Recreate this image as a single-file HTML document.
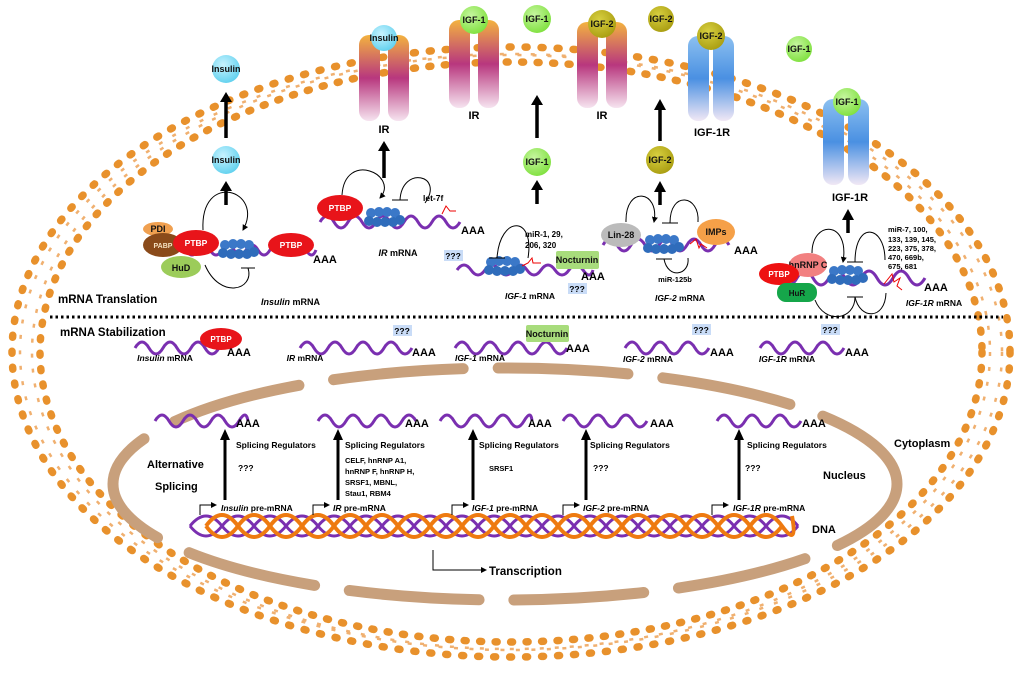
<!DOCTYPE html>
<html><head><meta charset="utf-8"><style>
html,body{margin:0;padding:0;background:#fff;}
svg{display:block;font-family:"Liberation Sans",Arial,sans-serif;font-weight:bold;}
.t{font-size:9px;fill:#111}
</style></head><body>
<svg width="1024" height="674" viewBox="0 0 1024 674" xmlns="http://www.w3.org/2000/svg">
<defs>
<linearGradient id="ir" x1="0" y1="0" x2="0" y2="1">
<stop offset="0" stop-color="#f3b23f"/><stop offset="0.5" stop-color="#b8377e"/><stop offset="1" stop-color="#f6e4f0"/></linearGradient>
<linearGradient id="igr" x1="0" y1="0" x2="0" y2="1">
<stop offset="0" stop-color="#8cc0f0"/><stop offset="0.5" stop-color="#4a90e2"/><stop offset="1" stop-color="#f1e8f5"/></linearGradient>
<radialGradient id="ins" cx="0.4" cy="0.35" r="0.7"><stop offset="0" stop-color="#c8f3ff"/><stop offset="1" stop-color="#5ed0ee"/></radialGradient>
<radialGradient id="ig1" cx="0.4" cy="0.35" r="0.7"><stop offset="0" stop-color="#c6f6a0"/><stop offset="1" stop-color="#7ee03c"/></radialGradient>
<radialGradient id="ig2" cx="0.4" cy="0.35" r="0.7"><stop offset="0" stop-color="#d8d040"/><stop offset="1" stop-color="#a89c10"/></radialGradient>
<g id="rib">
<circle cx="-12" cy="-5" r="5" fill="#3b78c8"/><circle cx="-4" cy="-6" r="5" fill="#3b78c8"/><circle cx="4" cy="-6" r="5" fill="#3b78c8"/><circle cx="12" cy="-5" r="5" fill="#3b78c8"/>
<circle cx="-14" cy="3" r="5" fill="#2f6cbb"/><circle cx="-6" cy="4" r="5" fill="#2f6cbb"/><circle cx="2" cy="4" r="5" fill="#2f6cbb"/><circle cx="10" cy="4" r="5" fill="#2f6cbb"/><circle cx="17" cy="2" r="5" fill="#2f6cbb"/>
</g>
<marker id="ah" markerWidth="6" markerHeight="6" refX="5" refY="3" orient="auto"><path d="M0,0 L6,3 L0,6 z" fill="#000"/></marker>
</defs>

<!-- membrane -->
<ellipse cx="511" cy="352" rx="491" ry="298" fill="none" stroke="#f0b070" stroke-width="2.5" stroke-dasharray="4 11.5"/>
<ellipse cx="511" cy="352" rx="479" ry="297" fill="none" stroke="#f0b070" stroke-width="2.5" stroke-dasharray="4 11"/>
<ellipse cx="511" cy="352" rx="499" ry="305" fill="none" stroke="#e8912c" stroke-width="7.5" stroke-dasharray="2 14" stroke-linecap="round"/>
<ellipse cx="511" cy="352" rx="471" ry="290" fill="none" stroke="#e8912c" stroke-width="7.5" stroke-dasharray="2 13.5" stroke-linecap="round"/>

<!-- nucleus -->
<ellipse cx="505" cy="484" rx="392" ry="116" fill="none" stroke="#c8a07c" stroke-width="11" stroke-dasharray="130 35" stroke-linecap="round" stroke-dashoffset="40"/>

<!-- dotted divider -->
<line x1="50" y1="317" x2="1003" y2="317" stroke="#000" stroke-width="3" stroke-dasharray="2.5 3"/>
<text x="58" y="303" font-size="11.5">mRNA Translation</text>
<text x="60" y="336" font-size="11.5">mRNA Stabilization</text>

<!-- receptors -->
<g>
<rect x="359" y="35" width="21" height="86" rx="10" fill="url(#ir)"/><rect x="388" y="35" width="21" height="86" rx="10" fill="url(#ir)"/>
<circle cx="384" cy="38" r="13" fill="url(#ins)"/><text x="384" y="41" class="t" font-size="7" text-anchor="middle">Insulin</text>
<text x="384" y="133" font-size="11" text-anchor="middle">IR</text>
<rect x="449" y="20" width="21" height="88" rx="10" fill="url(#ir)"/><rect x="478" y="20" width="21" height="88" rx="10" fill="url(#ir)"/>
<circle cx="474" cy="20" r="14" fill="url(#ig1)"/><text x="474" y="23" class="t" font-size="7" text-anchor="middle">IGF-1</text>
<text x="474" y="119" font-size="11" text-anchor="middle">IR</text>
<rect x="577" y="22" width="21" height="86" rx="10" fill="url(#ir)"/><rect x="606" y="22" width="21" height="86" rx="10" fill="url(#ir)"/>
<circle cx="602" cy="24" r="14" fill="url(#ig2)"/><text x="602" y="27" class="t" font-size="7" text-anchor="middle">IGF-2</text>
<text x="602" y="119" font-size="11" text-anchor="middle">IR</text>
<rect x="688" y="36" width="21" height="85" rx="10" fill="url(#igr)"/><rect x="713" y="36" width="21" height="85" rx="10" fill="url(#igr)"/>
<circle cx="711" cy="36" r="14" fill="url(#ig2)"/><text x="711" y="39" class="t" font-size="7" text-anchor="middle">IGF-2</text>
<text x="712" y="136" font-size="11" text-anchor="middle">IGF-1R</text>
<rect x="823" y="99" width="21" height="86" rx="10" fill="url(#igr)"/><rect x="848" y="99" width="21" height="86" rx="10" fill="url(#igr)"/>
<circle cx="847" cy="102" r="14" fill="url(#ig1)"/><text x="847" y="105" class="t" font-size="7" text-anchor="middle">IGF-1</text>
<text x="850" y="201" font-size="11" text-anchor="middle">IGF-1R</text>
</g>
<!-- free ligands -->
<circle cx="537" cy="19" r="14" fill="url(#ig1)"/><text x="537" y="22" class="t" font-size="7" text-anchor="middle">IGF-1</text>
<circle cx="661" cy="19" r="13" fill="url(#ig2)"/><text x="661" y="22" class="t" font-size="7" text-anchor="middle">IGF-2</text>
<circle cx="799" cy="49" r="13" fill="url(#ig1)"/><text x="799" y="52" class="t" font-size="7" text-anchor="middle">IGF-1</text>
<circle cx="226" cy="69" r="14" fill="url(#ins)"/><text x="226" y="72" class="t" font-size="7" text-anchor="middle">Insulin</text>
<circle cx="226" cy="160" r="14" fill="url(#ins)"/><text x="226" y="163" class="t" font-size="7" text-anchor="middle">Insulin</text>
<circle cx="537" cy="162" r="14" fill="url(#ig1)"/><text x="537" y="165" class="t" font-size="7" text-anchor="middle">IGF-1</text>
<circle cx="660" cy="160" r="14" fill="url(#ig2)"/><text x="660" y="163" class="t" font-size="7" text-anchor="middle">IGF-2</text>

<!-- thick up arrows -->
<g stroke="#000" stroke-width="3.5" fill="#000">
<line x1="226" y1="138" x2="226" y2="100"/><path d="M220,102 L226,92 L232,102z" stroke="none"/>
<line x1="226" y1="205" x2="226" y2="190"/><path d="M220,191 L226,181 L232,191z" stroke="none"/>
<line x1="384" y1="178" x2="384" y2="150"/><path d="M378,151 L384,141 L390,151z" stroke="none"/>
<line x1="537" y1="138" x2="537" y2="105"/><path d="M531,105 L537,95 L543,105z" stroke="none"/>
<line x1="537" y1="204" x2="537" y2="189"/><path d="M531,190 L537,180 L543,190z" stroke="none"/>
<line x1="660" y1="141" x2="660" y2="109"/><path d="M654,110 L660,99 L666,110z" stroke="none"/>
<line x1="660" y1="205" x2="660" y2="191"/><path d="M654,192 L660,181 L666,192z" stroke="none"/>
<line x1="848" y1="233" x2="848" y2="219"/><path d="M842,220 L848,209 L854,220z" stroke="none"/>
</g>

<!-- mRNA translation row -->
<g fill="none" stroke="#7a2fb0" stroke-width="3">
<path d="M150 250 q6 -10 12 0 t12 0 t12 0 t12 0 t12 0 t12 0 t12 0 t12 0 t12 0 t12 0 t12 0 t12 0 t12 0 t10 0"/>
<path d="M320 222 q7 -12 14 0 t14 0 t14 0 t14 0 t14 0 t14 0 t14 0 t14 0 t14 0 t14 0"/>
<path d="M457 270 q7 -10 14 0 t14 0 t14 0 t14 0 t14 0 t14 0 t14 0 t14 0 t14 0 t10 0"/>
<path d="M603 245 q7 -12 14 0 t14 0 t14 0 t14 0 t14 0 t14 0 t14 0 t14 0 t14 0"/>
<path d="M765 278 q8 -14 16 0 t16 0 t16 0 t16 0 t16 0 t16 0 t16 0 t16 0 t16 0 t16 0"/>
</g>
<!-- proteins -->
<ellipse cx="158" cy="229" rx="15" ry="7" fill="#f0a050"/><text x="158" y="232" class="t" font-size="6.5" text-anchor="middle">PDI</text>
<ellipse cx="163" cy="245" rx="20" ry="12" fill="#8a4a1a"/><text x="163" y="248" font-size="7" fill="#f5e0c0" text-anchor="middle">PABP</text>
<ellipse cx="181" cy="267" rx="20" ry="11" fill="#9ccc5a"/><text x="181" y="271" class="t" font-size="9" text-anchor="middle">HuD</text>
<ellipse cx="196" cy="243" rx="23" ry="13" fill="#e8141a"/><text x="196" y="246" font-size="8.5" fill="#fff" text-anchor="middle">PTBP</text>
<use href="#rib" x="237" y="250"/>
<ellipse cx="291" cy="245" rx="23" ry="12" fill="#e8141a"/><text x="291" y="248" font-size="8.5" fill="#fff" text-anchor="middle">PTBP</text>
<text x="313" y="263" font-size="11">AAA</text>
<text x="261" y="305" font-size="9"><tspan font-style="italic">Insulin</tspan> mRNA</text>

<ellipse cx="340" cy="208" rx="23" ry="13" fill="#e8141a"/><text x="340" y="211" font-size="8.5" fill="#fff" text-anchor="middle">PTBP</text>
<use href="#rib" x="383" y="218"/>
<path d="M442 214 l4 -8 l4 5 l6 0" stroke="#e00" fill="none" stroke-width="1"/>
<text x="461" y="234" font-size="11">AAA</text>
<text x="398" y="256" font-size="9" text-anchor="middle"><tspan font-style="italic">IR</tspan> mRNA</text>
<text x="423" y="201" font-size="8.5">let-7f</text>

<rect x="444" y="250" width="19" height="11" fill="#c9dcf7"/><text x="453" y="259" font-size="8.5" text-anchor="middle">???</text>
<use href="#rib" x="503" y="267"/>
<path d="M522 266 l6 -3 l4 -5 l1 5 l8 0" stroke="#e00" fill="none" stroke-width="1"/>
<rect x="556" y="251" width="43" height="18" rx="2" fill="#a8dc7c"/><text x="577" y="263" class="t" font-size="7.5" text-anchor="middle">Nocturnin</text>
<text x="581" y="280" font-size="11">AAA</text>
<rect x="568" y="283" width="19" height="11" fill="#c9dcf7"/><text x="577" y="292" font-size="8.5" text-anchor="middle">???</text>
<text x="525" y="237" font-size="8">miR-1, 29,</text><text x="525" y="248" font-size="8">206, 320</text>
<text x="530" y="299" font-size="8.5" text-anchor="middle"><tspan font-style="italic">IGF-1</tspan> mRNA</text>

<ellipse cx="621" cy="235" rx="20" ry="12" fill="#bbb"/><text x="621" y="238" class="t" font-size="7" text-anchor="middle">Lin-28</text>
<use href="#rib" x="662" y="245"/>
<path d="M690 244 l6 -5 l3 9 l2 -4 l6 4" stroke="#e00" fill="none" stroke-width="1"/>
<ellipse cx="716" cy="232" rx="19" ry="13" fill="#f5a048"/><text x="716" y="235" class="t" font-size="8.5" text-anchor="middle">IMPs</text>
<text x="734" y="254" font-size="11">AAA</text>
<text x="675" y="282" font-size="7.5" text-anchor="middle">miR-125b</text>
<text x="680" y="301" font-size="8.5" text-anchor="middle"><tspan font-style="italic">IGF-2</tspan> mRNA</text>

<ellipse cx="808" cy="265" rx="19" ry="12" fill="#f28080"/><text x="808" y="268" class="t" font-size="8" text-anchor="middle">hnRNP C</text>
<ellipse cx="779" cy="274" rx="20" ry="11" fill="#ee1111"/><text x="779" y="277" font-size="8" fill="#fff" text-anchor="middle">PTBP</text>
<rect x="777" y="283" width="40" height="19" rx="9" fill="#15a64a"/><text x="797" y="296" font-size="8" fill="#111" text-anchor="middle">HuR</text>
<use href="#rib" x="846" y="276"/>
<path d="M884 284 l8 -10 l2 8 l6 -4 l-3 8 l5 4" stroke="#e00" fill="none" stroke-width="1"/>
<text x="924" y="291" font-size="11">AAA</text>
<g font-size="7.5"><text x="888" y="232">miR-7, 100,</text><text x="888" y="242">133, 139, 145,</text><text x="888" y="251">223, 375, 378,</text><text x="888" y="260">470, 669b,</text><text x="888" y="269">675, 681</text></g>
<text x="934" y="306" font-size="8.5" text-anchor="middle"><tspan font-style="italic">IGF-1R</tspan> mRNA</text>

<!-- curved arrows / inhibitors -->
<g fill="none" stroke="#000" stroke-width="1">
<path d="M203 230 C200 170 265 190 243 230" marker-end="url(#ah)"/>
<path d="M205 265 C220 300 255 290 248 268"/><line x1="241" y1="268" x2="255" y2="268"/>
<path d="M342 195 C345 150 400 175 380 198" marker-end="url(#ah)"/>
<path d="M400 200 C402 165 445 175 425 203"/><line x1="392" y1="200" x2="408" y2="200"/>
<path d="M497 258 C500 215 535 215 528 258"/><line x1="489" y1="258" x2="505" y2="258"/>
<path d="M626 222 C625 185 660 190 654 222" marker-end="url(#ah)"/>
<path d="M670 223 C670 190 700 195 698 222"/><line x1="662" y1="223" x2="678" y2="223"/>
<path d="M664 259 C668 280 690 275 688 258"/><line x1="656" y1="259" x2="672" y2="259"/>
<path d="M812 253 C812 220 850 220 843 262" marker-end="url(#ah)"/>
<path d="M855 262 C855 220 885 225 885 260"/><line x1="847" y1="262" x2="863" y2="262"/>
<path d="M815 300 C825 325 855 320 855 297"/>
<path d="M855 297 C860 320 885 320 886 293"/><line x1="847" y1="297" x2="863" y2="297"/>
</g>

<!-- stabilization row -->
<g fill="none" stroke="#7a2fb0" stroke-width="3">
<path d="M135 348 q7 -12 14 0 t14 0 t14 0 t14 0 t14 0 t14 0 t14 0"/>
<path d="M300 348 q7 -12 14 0 t14 0 t14 0 t14 0 t14 0 t14 0 t14 0 t14 0"/>
<path d="M455 348 q7 -12 14 0 t14 0 t14 0 t14 0 t14 0 t14 0 t14 0 t14 0"/>
<path d="M625 348 q7 -12 14 0 t14 0 t14 0 t14 0 t14 0 t14 0"/>
<path d="M760 348 q7 -12 14 0 t14 0 t14 0 t14 0 t14 0 t14 0"/>
</g>
<ellipse cx="221" cy="339" rx="21" ry="11" fill="#e8141a"/><text x="221" y="342" font-size="8" fill="#fff" text-anchor="middle">PTBP</text>
<text x="227" y="356" font-size="11">AAA</text>
<text x="165" y="361" font-size="8.5" text-anchor="middle"><tspan font-style="italic">Insulin</tspan> mRNA</text>
<rect x="393" y="325" width="19" height="11" fill="#c9dcf7"/><text x="402" y="334" font-size="8.5" text-anchor="middle">???</text>
<text x="412" y="356" font-size="11">AAA</text>
<text x="305" y="361" font-size="8.5" text-anchor="middle"><tspan font-style="italic">IR</tspan> mRNA</text>
<rect x="526" y="325" width="43" height="17" rx="2" fill="#a8dc7c"/><text x="547" y="337" class="t" font-size="7.5" text-anchor="middle">Nocturnin</text>
<text x="566" y="352" font-size="11">AAA</text>
<text x="480" y="361" font-size="8.5" text-anchor="middle"><tspan font-style="italic">IGF-1</tspan> mRNA</text>
<rect x="692" y="324" width="19" height="11" fill="#c9dcf7"/><text x="701" y="333" font-size="8.5" text-anchor="middle">???</text>
<text x="710" y="356" font-size="11">AAA</text>
<text x="648" y="362" font-size="8.5" text-anchor="middle"><tspan font-style="italic">IGF-2</tspan> mRNA</text>
<rect x="821" y="324" width="19" height="11" fill="#c9dcf7"/><text x="830" y="333" font-size="8.5" text-anchor="middle">???</text>
<text x="845" y="356" font-size="11">AAA</text>
<text x="787" y="362" font-size="8.5" text-anchor="middle"><tspan font-style="italic">IGF-1R</tspan> mRNA</text>

<!-- splicing row -->
<g fill="none" stroke="#7a2fb0" stroke-width="3">
<path d="M155 421 q7 -12 14 0 t14 0 t14 0 t14 0 t14 0 t14 0 t9 0"/>
<path d="M318 421 q7 -12 14 0 t14 0 t14 0 t14 0 t14 0 t14 0 t14 0"/>
<path d="M440 421 q7 -12 14 0 t14 0 t14 0 t14 0 t14 0 t14 0 t8 0"/>
<path d="M563 421 q7 -12 14 0 t14 0 t14 0 t14 0 t14 0 t14 0"/>
<path d="M717 421 q7 -12 14 0 t14 0 t14 0 t14 0 t14 0 t14 0"/>
</g>
<g font-size="11"><text x="236" y="427">AAA</text><text x="405" y="427">AAA</text><text x="528" y="427">AAA</text><text x="650" y="427">AAA</text><text x="802" y="427">AAA</text></g>
<g stroke="#000" stroke-width="3">
<line x1="225" y1="500" x2="225" y2="438"/><line x1="338" y1="500" x2="338" y2="438"/><line x1="473" y1="500" x2="473" y2="438"/><line x1="586" y1="500" x2="586" y2="438"/><line x1="739" y1="500" x2="739" y2="438"/>
</g>
<g fill="#000"><path d="M220,440 L225,429 L230,440z"/><path d="M333,440 L338,429 L343,440z"/><path d="M468,440 L473,429 L478,440z"/><path d="M581,440 L586,429 L591,440z"/><path d="M734,440 L739,429 L744,440z"/></g>
<g font-size="8.5">
<text x="236" y="448">Splicing Regulators</text><text x="238" y="471">???</text>
<text x="345" y="448">Splicing Regulators</text>
<text x="345" y="463" font-size="7.5">CELF, hnRNP A1,</text><text x="345" y="474" font-size="7.5">hnRNP F, hnRNP H,</text><text x="345" y="485" font-size="7.5">SRSF1, MBNL,</text><text x="345" y="496" font-size="7.5">Stau1, RBM4</text>
<text x="479" y="448">Splicing Regulators</text><text x="489" y="471" font-size="7.5">SRSF1</text>
<text x="590" y="448">Splicing Regulators</text><text x="593" y="471">???</text>
<text x="747" y="448">Splicing Regulators</text><text x="745" y="471">???</text>
</g>
<text x="147" y="468" font-size="11">Alternative</text>
<text x="155" y="490" font-size="11">Splicing</text>
<text x="894" y="447" font-size="11">Cytoplasm</text>
<text x="823" y="479" font-size="11">Nucleus</text>

<!-- DNA -->
<g fill="none" stroke="#7a2fb0" stroke-width="3">
<path d="M190 526 q16 -20 32 0 t32 0 t32 0 t32 0 t32 0 t32 0 t32 0 t32 0 t32 0 t32 0 t32 0 t32 0 t32 0 t32 0 t32 0 t32 0 t32 0 t32 0 t32 0"/>
<path d="M190 526 q16 20 32 0 t32 0 t32 0 t32 0 t32 0 t32 0 t32 0 t32 0 t32 0 t32 0 t32 0 t32 0 t32 0 t32 0 t32 0 t32 0 t32 0 t32 0 t32 0"/>
</g>
<g fill="none" stroke="#ee7a10" stroke-width="4">
<path d="M206 526 q16 22 32 0 t32 0 t32 0 t32 0 t32 0 t32 0 t32 0 t32 0 t32 0 t32 0 t32 0 t32 0 t32 0 t32 0 t32 0 t32 0 t32 0 t32 0 t10 -10"/>
<path d="M206 526 q16 -22 32 0 t32 0 t32 0 t32 0 t32 0 t32 0 t32 0 t32 0 t32 0 t32 0 t32 0 t32 0 t32 0 t32 0 t32 0 t32 0 t32 0 t32 0"/>
</g>
<text x="812" y="533" font-size="11">DNA</text>
<g fill="none" stroke="#000" stroke-width="1">
<path d="M200 515 V505 H216" marker-end="url(#ah)"/>
<path d="M313 515 V505 H329" marker-end="url(#ah)"/>
<path d="M452 515 V505 H468" marker-end="url(#ah)"/>
<path d="M563 515 V505 H579" marker-end="url(#ah)"/>
<path d="M712 515 V505 H728" marker-end="url(#ah)"/>
<path d="M433 550 V570 H486" marker-end="url(#ah)"/>
</g>
<g font-size="8.5">
<text x="221" y="511"><tspan font-style="italic">Insulin</tspan> pre-mRNA</text>
<text x="333" y="511"><tspan font-style="italic">IR</tspan> pre-mRNA</text>
<text x="472" y="511"><tspan font-style="italic">IGF-1</tspan> pre-mRNA</text>
<text x="583" y="511"><tspan font-style="italic">IGF-2</tspan> pre-mRNA</text>
<text x="733" y="511"><tspan font-style="italic">IGF-1R</tspan> pre-mRNA</text>
</g>
<text x="489" y="575" font-size="11.5">Transcription</text>
</svg>
</body></html>
